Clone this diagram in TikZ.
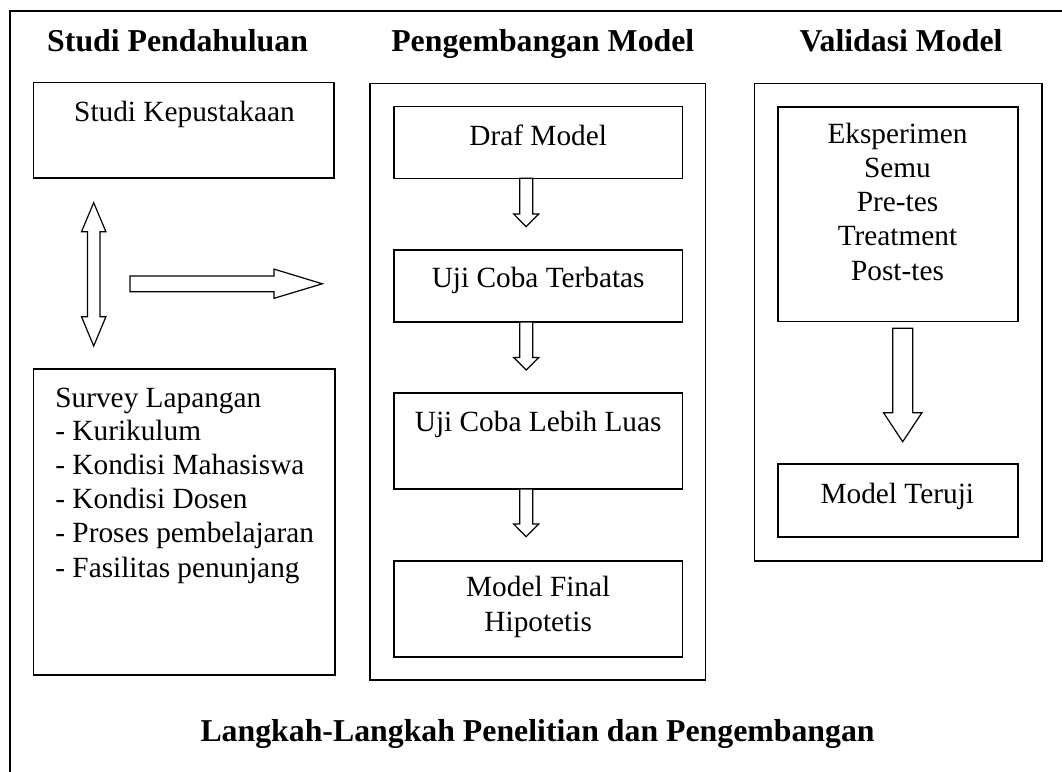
\documentclass[tikz,border=0pt]{standalone}
\usepackage{fontspec}
\setmainfont{Liberation Serif}
\usetikzlibrary{calc}
\tikzset{
  box/.style={draw, line width=1.5pt, inner sep=0pt, outer sep=0pt, rectangle},
  blk/.style={draw, line width=1.2pt, fill=white, line join=miter},
  ttl/.style={font=\fontsize{31.8}{36}\selectfont\bfseries, anchor=base, inner sep=0pt},
  txt/.style={font=\fontsize{29.3}{34.3}\selectfont, anchor=base, inner sep=0pt},
  txl/.style={txt, anchor=base west}
}
% #1 top centre, #2 length, #3 shaft half width, #4 head half width, #5 head length
\newcommand{\blockdown}[5]{%
  \draw[blk] ($(#1)+(-#3,0)$) -- ++(0,#2-#5) -- ++(#3-#4,0) -- ++(#4,#5) -- ++(#4,-#5) -- ++(#3-#4,0) -- ++(0,#5-#2) -- cycle;}
\begin{document}
\begin{tikzpicture}[x=1pt,y=-1pt]
\useasboundingbox (0,0) rectangle (1062,771);
\clip (0,0) rectangle (1062,771);
\fill[white] (0,0) rectangle (1062,771);
% outer frame
\draw[line width=1.5pt] (10,11) rectangle (1090,800);

% titles
\node[ttl] (t1) at (177.6,51.7) {Studi Pendahuluan};
\node[ttl] (t2) at (542.8,51.7) {Pengembangan Model};
\node[ttl] (t3) at (901,51.7) {Validasi Model};
\node[ttl] (t4) at (537.6,741.7) {Langkah-Langkah Penelitian dan Pengembangan};

% column 1
\node[box, minimum width=300.3pt, minimum height=95.3pt] (kep) at (183.85,130.35) {};
\node[txt] (kept) at (184.5,121.7) {Studi Kepustakaan};
\node[box, minimum width=301.1pt, minimum height=306pt] (srv) at (184.25,522) {};
\node[txl] (s1) at (55.2,407) {Survey Lapangan};
\node[txl] (s2) at (55.2,440.5) {- Kurikulum};
\node[txl] (s3) at (55.2,474.5) {- Kondisi Mahasiswa};
\node[txl] (s4) at (55.2,508.5) {- Kondisi Dosen};
\node[txl] (s5) at (55.2,542.5) {- Proses pembelajaran};
\node[txl] (s6) at (55.2,577) {- Fasilitas penunjang};

% double arrow
\coordinate (dtop) at (93.7,202.7);
\draw[blk] (dtop) -- ++(12.2,29) -- ++(-5.9,0) -- ++(0,85) -- ++(5.9,0) -- ++(-12.2,29.3)
  -- ++(-12.2,-29.3) -- ++(5.9,0) -- ++(0,-85) -- ++(-5.9,0) -- cycle;
% horizontal arrow
\coordinate (htail) at (130,283.8);
\draw[blk] ($(htail)+(0,-7.8)$) -- ++(144,0) -- ++(0,-6.9) -- ++(48.3,14.7) -- ++(-48.3,14.5)
  -- ++(0,-6.6) -- ++(-144,0) -- cycle;

% column 2
\node[box, minimum width=335.7pt, minimum height=596.7pt] (peng) at (537.85,381.65) {};
\node[box, minimum width=288.3pt, minimum height=71.6pt] (draf) at (538.15,142.5) {};
\node[txt] (draft) at (538.2,145) {Draf Model};
\node[box, minimum width=288.3pt, minimum height=72pt] (terb) at (538.15,286) {};
\node[txt] (terbt) at (538.2,287) {Uji Coba Terbatas};
\node[box, minimum width=288.3pt, minimum height=96pt] (luas) at (538.15,441) {};
\node[txt] (luast) at (538.2,431.7) {Uji Coba Lebih Luas};
\node[box, minimum width=288.3pt, minimum height=96pt] (fin) at (538.15,609) {};
\node[txt] (fint1) at (538.2,596.7) {Model Final};
\node[txt] (fint2) at (538.2,631.7) {Hipotetis};

\coordinate (a1) at ($(draf.south)+(-12,0)$);
\coordinate (a2) at ($(terb.south)+(-12,0)$);
\coordinate (a3) at ($(luas.south)+(-12,0)$);
\blockdown{a1}{48.4}{6.5}{12.5}{12.7}
\blockdown{a2}{48}{6.5}{12.5}{12.5}
\blockdown{a3}{47.7}{6.5}{12.5}{12.7}

% column 3
\node[box, minimum width=287.7pt, minimum height=477.7pt] (val) at (898.15,322.15) {};
\node[box, minimum width=240pt, minimum height=214.7pt] (eks) at (898,214.35) {};
\node[txt] (e1) at (897.5,143) {Eksperimen};
\node[txt] (e2) at (897.5,177.3) {Semu};
\node[txt] (e3) at (897.5,211.6) {Pre-tes};
\node[txt] (e4) at (897.5,245.9) {Treatment};
\node[txt] (e5) at (897.5,280.2) {Post-tes};
\node[box, minimum width=240pt, minimum height=73pt] (ter) at (898,500.5) {};
\node[txt] (tert) at (897.3,503) {Model Teruji};
\coordinate (a4) at ($(eks.south)+(4.7,6.6)$);
\blockdown{a4}{113.4}{10}{19.2}{29}
\end{tikzpicture}
\end{document}
